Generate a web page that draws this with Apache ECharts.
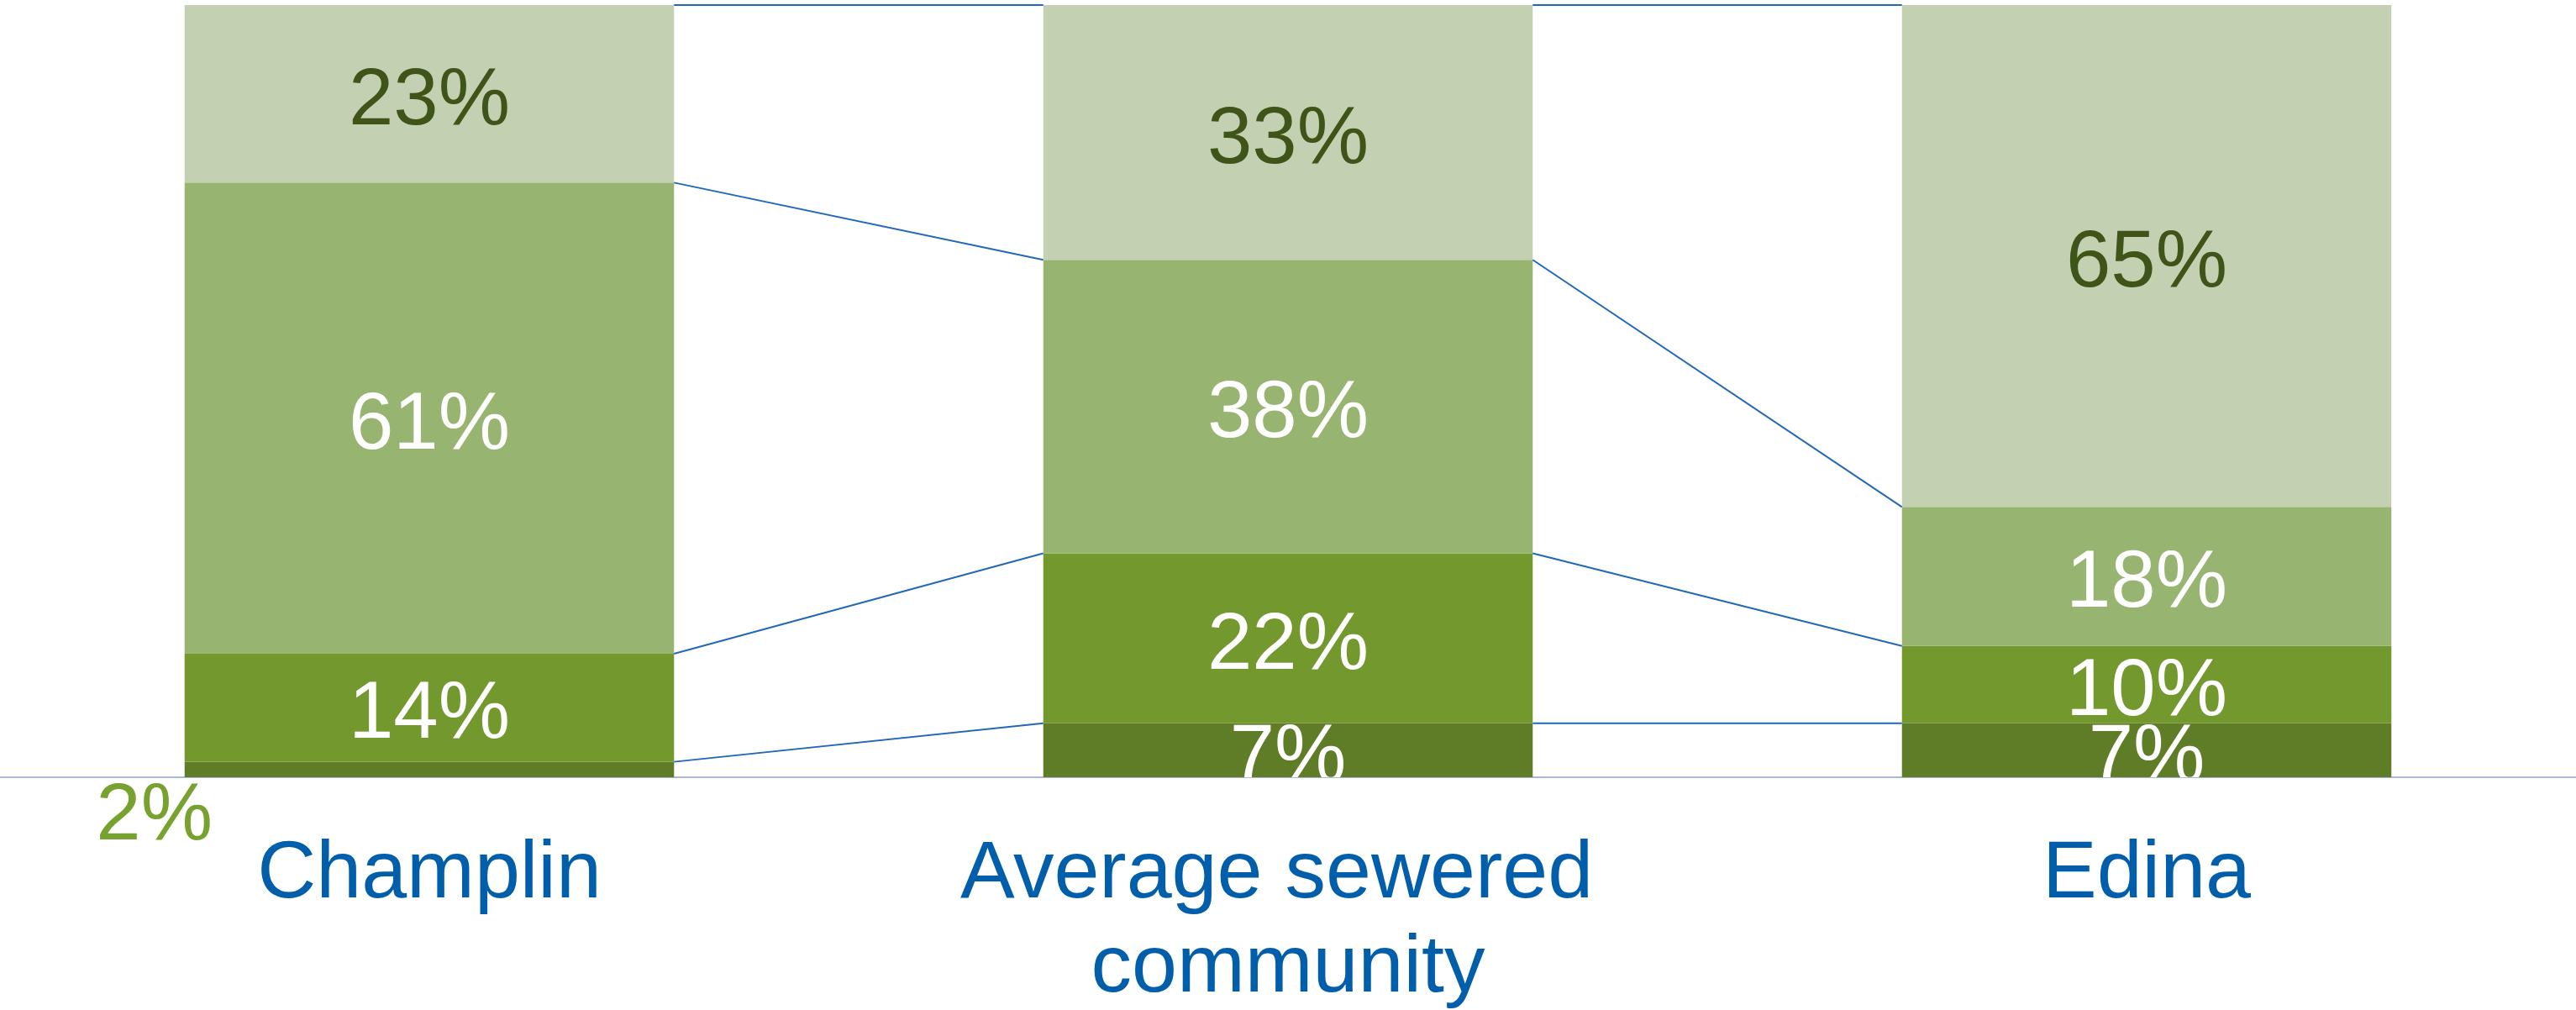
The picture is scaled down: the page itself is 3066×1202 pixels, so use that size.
<!DOCTYPE html>
<html>
<head>
<meta charset="utf-8">
<script src="https://cdn.jsdelivr.net/npm/echarts@6/dist/echarts.min.js"></script>
<style>
  html, body { margin: 0; padding: 0; background: #ffffff; }
  #chart { width: 3066px; height: 1202px; }
</style>
</head>
<body>
<div id="chart"></div>
<script>
// Communities shown along the x axis
const communities = ['Champlin', 'Average sewered community', 'Edina'];

// Share of each segment per community (percent), stacked bottom to top
const segment1 = [2, 7, 7];
const segment2 = [14, 22, 10];
const segment3 = [61, 38, 18];
const segment4 = [23, 33, 65];

const stackOrder = [segment1, segment2, segment3, segment4];
const segmentColors = ['#5E7D26', '#73982E', '#97B471', '#C3D0B1'];
const labelColors = ['#FFFFFF', '#FFFFFF', '#FFFFFF', '#3F5418'];

const BAR_RATIO = 0.57;
const FONT = '"Liberation Sans", Arial, sans-serif';
const LABEL_SIZE = 96;

// Running totals at each segment boundary, per community
const boundaries = communities.map((_, c) => {
  let sum = 0;
  return stackOrder.map(seg => (sum += seg[c]));
});

// One connector per boundary between neighbouring bars: [leftIndex, leftTotal, rightTotal]
const connectorData = [];
for (let c = 0; c < communities.length - 1; c++) {
  for (let s = 0; s < stackOrder.length; s++) {
    connectorData.push([c, boundaries[c][s], boundaries[c + 1][s]]);
  }
}

// Value labels drawn inside each segment: [community, segment, value, lower total, upper total]
const labelData = [];
communities.forEach((_, c) => {
  stackOrder.forEach((seg, s) => {
    if (c === 0 && s === 0) return; // the thin slice is labelled outside its bar
    const upper = boundaries[c][s];
    labelData.push([c, s, seg[c], upper - seg[c], upper]);
  });
});

const barSeries = stackOrder.map((seg, s) => ({
  type: 'bar',
  stack: 'total',
  barWidth: (BAR_RATIO * 100) + '%',
  itemStyle: { color: segmentColors[s] },
  label: { show: false },
  emphasis: { disabled: true },
  data: seg.map((v, c) => {
    // The thin bottom slice of the first bar carries its label just outside, lower left
    if (s === 0 && c === 0) {
      return {
        value: v,
        label: {
          show: true,
          formatter: '{c}%',
          position: [-36, 66],
          align: 'center',
          verticalAlign: 'middle',
          color: '#78A22F',
          fontFamily: FONT,
          fontSize: LABEL_SIZE
        }
      };
    }
    return v;
  }),
  z: 2
}));

const connectorSeries = {
  type: 'custom',
  silent: true,
  z: 3,
  data: connectorData,
  encode: { x: 0, y: [1, 2] },
  renderItem: function (params, api) {
    const c = api.value(0);
    const left = api.coord([c, api.value(1)]);
    const right = api.coord([c + 1, api.value(2)]);
    const half = api.size([1, 0])[0] * BAR_RATIO / 2;
    return {
      type: 'line',
      shape: { x1: left[0] + half, y1: left[1], x2: right[0] - half, y2: right[1] },
      style: { stroke: '#2268B8', lineWidth: 2 }
    };
  }
};

// Segment labels, clipped to the plot area so tall text in thin slices stops at the axis
const labelSeries = {
  type: 'custom',
  silent: true,
  clip: true,
  z: 4,
  data: labelData,
  encode: { x: 0, y: [3, 4] },
  renderItem: function (params, api) {
    const c = api.value(0);
    const s = api.value(1);
    const lo = api.coord([c, api.value(3)]);
    const hi = api.coord([c, api.value(4)]);
    return {
      type: 'text',
      x: lo[0],
      y: (lo[1] + hi[1]) / 2 + LABEL_SIZE * 0.1,
      style: {
        text: api.value(2) + '%',
        fill: labelColors[s],
        font: LABEL_SIZE + 'px ' + FONT,
        align: 'center',
        verticalAlign: 'middle'
      }
    };
  }
};

const chart = echarts.init(document.getElementById('chart'), null, { renderer: 'canvas' });
chart.setOption({
  animation: false,
  backgroundColor: '#ffffff',
  grid: {
    left: 0, right: 0, top: 6, bottom: 277,
    containLabel: false,
    outerBoundsMode: 'none'
  },
  xAxis: {
    type: 'category',
    data: communities,
    axisLine: { show: true, lineStyle: { color: '#A9B7D8', width: 2 } },
    axisTick: { show: false },
    axisLabel: {
      color: '#005EAA',
      fontFamily: FONT,
      fontSize: 97,
      lineHeight: 112,
      margin: 60,
      width: 840,
      overflow: 'break',
      interval: 0
    },
    splitLine: { show: false }
  },
  yAxis: {
    type: 'value',
    min: 0,
    max: 100,
    show: false,
    splitLine: { show: false }
  },
  series: [...barSeries, connectorSeries, labelSeries]
});
</script>
</body>
</html>
